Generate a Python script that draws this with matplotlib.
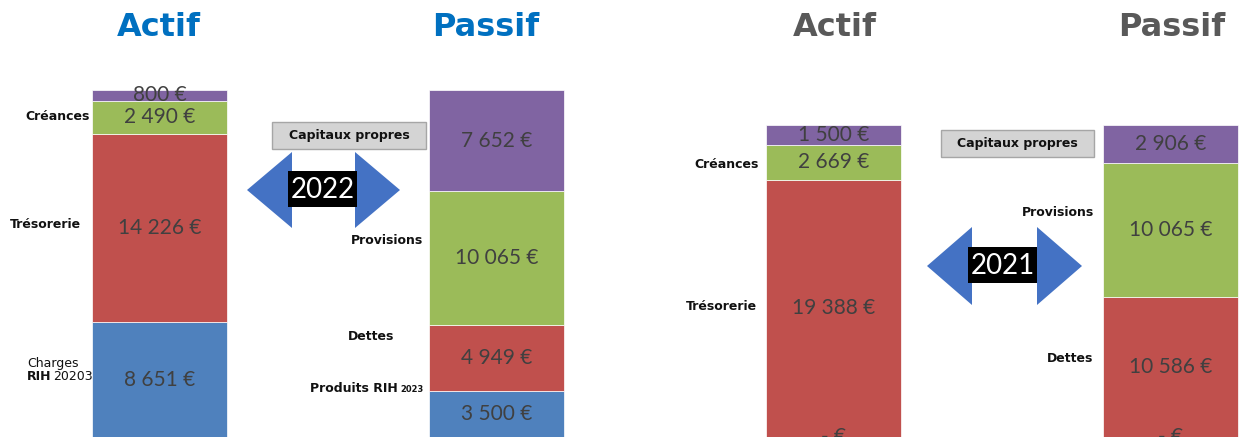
import matplotlib.pyplot as plt
import numpy as np
from matplotlib.patches import Polygon, Rectangle

# values in euros, stacked from bottom to top of each bar
bar_names = ["Actif 2022", "Passif 2022", "Actif 2021", "Passif 2021"]
rih = [8651, 3500, 0, 0]                        # charges / produits RIH (blue)
tresorerie_dettes = [14226, 4949, 19388, 10586]  # red
creances_provisions = [2490, 10065, 2669, 10065]  # green
capitaux = [800, 7652, 1500, 2906]              # purple

titles = ["Actif", "Passif", "Actif", "Passif"]
years = ["2022", "2021"]

W, H = 1240, 437
colors = ["#4F81BD", "#C0504D", "#9BBB59", "#8064A2"]
title_colors = ["#0070C0", "#0070C0", "#595959", "#595959"]
VAL_FONT = ["Lato", "DejaVu Sans"]


def euro(v):
    if v == 0:
        return "- €"
    return f"{v:,} €".replace(",", " ")


fig = plt.figure(figsize=(W / 100, H / 100), dpi=100)

layers = [rih, tresorerie_dettes, creances_provisions, capitaux]
totals = np.sum(layers, axis=0)

ax = fig.add_axes([0, 0, 1, (H - 90) / H])
x = np.arange(len(bar_names))
bottom = np.zeros(len(bar_names))
for vals, col in zip(layers, colors):
    vals = np.array(vals, dtype=float)
    ax.bar(x, vals, width=0.40, bottom=bottom, color=col,
           edgecolor="white", linewidth=0.5)
    for xi, b, v in zip(x, bottom, vals):
        ax.text(xi, b + v / 2, euro(int(v)), ha="center", va="center",
                fontsize=15, color="#404040", family=VAL_FONT)
    bottom += vals
ax.set_xlim(-0.473, 3.207)
ax.set_ylim(0, totals.max())
ax.axis("off")

# overlay in pixel units for the decorations
ov = fig.add_axes([0, 0, 1, 1], zorder=5)
ov.set_xlim(0, W)
ov.set_ylim(H, 0)
ov.axis("off")

for t, c, xc in zip(titles, title_colors, [159, 486, 835, 1172]):
    ov.text(xc, 28, t, ha="center", va="center", fontsize=23,
            fontweight="bold", color=c, family="DejaVu Sans")


def cat(xp, yp, s, ha="right", size=9, weight="bold"):
    ov.text(xp, yp, s, ha=ha, va="center", fontsize=size, fontweight=weight,
            color="#111111", family="DejaVu Sans")


# left chart labels
cat(90, 116, "Créances")
cat(81, 225, "Trésorerie")
cat(27, 363, "Charges", ha="left", weight="normal")
cat(27, 377, "RIH", ha="left")
cat(53, 377, "20203", ha="left", weight="normal")
cat(423, 241, "Provisions")
cat(394, 336, "Dettes")
cat(398, 388, "Produits RIH")
cat(400, 389, "2023", ha="left", size=6)
# right chart labels
cat(759, 164, "Créances")
cat(757, 306, "Trésorerie")
cat(1094, 213, "Provisions")
cat(1093, 359, "Dettes")


def cap_box(x0, x1, y0, y1):
    ov.add_patch(Rectangle((x0, y0), x1 - x0, y1 - y0, facecolor="#D4D4D4",
                           edgecolor="#A6A6A6", linewidth=1))
    cat((x0 + x1) / 2, (y0 + y1) / 2, "Capitaux propres", ha="center", size=9)


def double_arrow(x0, x1, yc, head_len, head_half, box, year):
    bx0, bx1, by0, by1 = box
    pts = [(x0, yc), (x0 + head_len, yc - head_half), (x0 + head_len, by0),
           (x1 - head_len, by0), (x1 - head_len, yc - head_half), (x1, yc),
           (x1 - head_len, yc + head_half), (x1 - head_len, by1),
           (x0 + head_len, by1), (x0 + head_len, yc + head_half)]
    ov.add_patch(Polygon(pts, closed=True, facecolor="#4472C4", edgecolor="none"))
    ov.add_patch(Rectangle((bx0, by0), bx1 - bx0, by1 - by0, facecolor="black",
                           edgecolor="none"))
    ov.text((bx0 + bx1) / 2, (by0 + by1) / 2 + 1, year, ha="center", va="center",
            fontsize=20, color="white", family=VAL_FONT)


cap_box(272, 426, 122, 149)
cap_box(941, 1094, 130, 157)
double_arrow(247, 400, 190, 45, 38, (288, 357, 171, 207), years[0])
double_arrow(927, 1082, 266, 45, 39, (968, 1037, 247, 283), years[1])

fig.savefig("out.png", dpi=100)
